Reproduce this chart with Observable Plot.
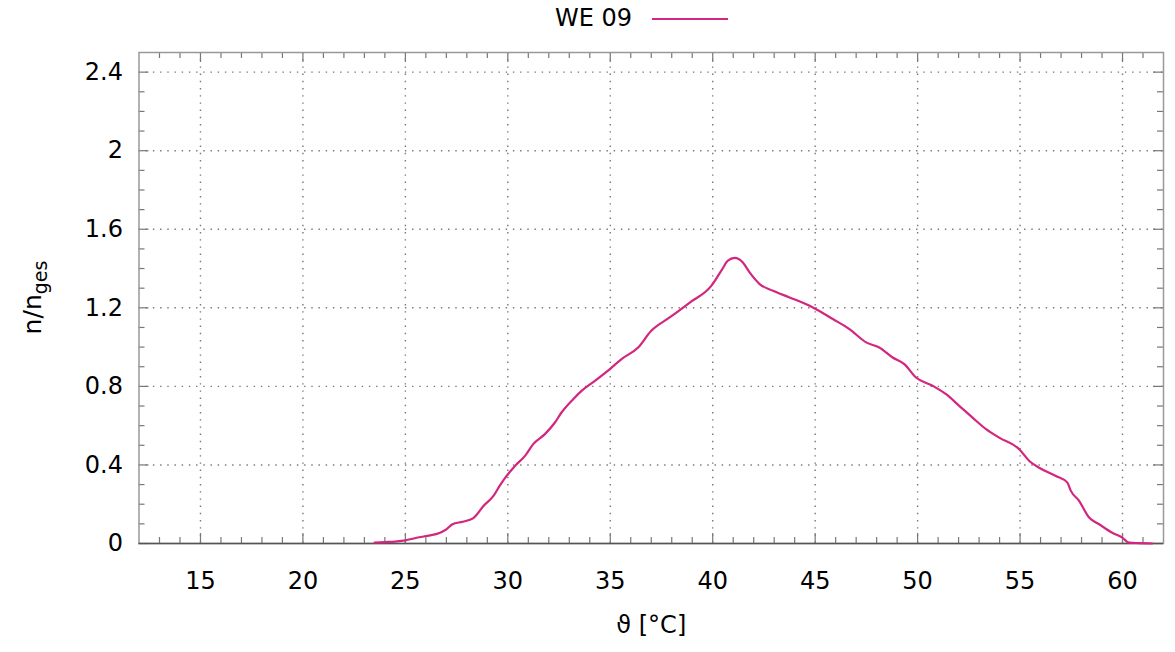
<!DOCTYPE html>
<html>
<head>
<meta charset="utf-8">
<script src="https://cdn.jsdelivr.net/npm/d3@7"></script>
<script src="https://cdn.jsdelivr.net/npm/@observablehq/plot@0.6"></script>
<style>
  html, body { margin: 0; padding: 0; background: #fff; }
  #legend { position: relative; height: 38px; width: 1175px; font-family: "DejaVu Sans", sans-serif; font-size: 24px; color: #000; }
  #legend span { position: absolute; left: 555px; top: 3px; line-height: 30px; }
  #legend svg { position: absolute; left: 652px; top: 17px; }
</style>
</head>
<body>
<div id="legend"><span>WE 09</span><svg width="78" height="4"><line x1="0" y1="2" x2="76" y2="2" stroke="#d2267f" stroke-width="2"/></svg></div>
<div id="chart"></div>
<script>
// --- data ---
const seriesName = "WE 09";
const temperature = [23.5,24.0,24.5,25.0,25.5,26.0,26.7,27.0,27.3,27.8,28.3,28.5,28.8,29.3,29.6,29.94,30.35,30.84,31.24,31.81,32.3,32.62,33.19,33.6,34.25,34.98,35.55,36.36,37.0,37.9,38.88,39.93,40.42,40.74,41.07,41.47,41.8,42.29,42.94,43.75,44.89,45.86,46.67,47.49,48.13,48.78,49.35,49.92,50.73,51.39,52.03,52.68,53.34,53.98,54.96,55.45,55.93,56.75,57.31,57.48,57.88,58.37,58.86,59.5,59.99,60.32,60.8,61.45];
const share = [0.004,0.007,0.01,0.016,0.028,0.038,0.055,0.072,0.098,0.111,0.128,0.149,0.19,0.242,0.293,0.344,0.395,0.446,0.506,0.557,0.616,0.667,0.735,0.777,0.828,0.888,0.939,0.998,1.083,1.151,1.227,1.312,1.389,1.44,1.454,1.431,1.38,1.321,1.287,1.253,1.202,1.143,1.092,1.024,0.998,0.947,0.913,0.845,0.803,0.76,0.701,0.641,0.582,0.539,0.48,0.42,0.386,0.344,0.31,0.268,0.217,0.132,0.098,0.055,0.03,0.004,0.002,0.0];
const xTicks = [15,20,25,30,35,40,45,50,55,60];
const yTicks = [0,0.4,0.8,1.2,1.6,2,2.4];
const xDomain = [12,62];
const yDomain = [0,2.5];
const xLabel = "ϑ [°C]";

const xMinor = d3.range(13, 62).filter(v => v % 5 !== 0);
const yMinor = d3.range(1, 25).filter(i => i % 4 !== 0).map(i => i / 10);

const table = temperature.map((t, i) => ({t, v: share[i]}));

const W = 1175, H = 614;
const mL = 138.5, mR = 12, mT = 14, mB = 109;
const iW = W - mL - mR, iH = H - mT - mB;
const majLen = 10, minLen = 6;
const tickColor = "#777";
const lineColor = "#d2267f";
const gridStyle = {stroke: "#777", strokeWidth: 1.4, strokeDasharray: "1.4,5.8"};

const plot = Plot.plot({
  width: W, height: H,
  marginLeft: mL, marginRight: mR, marginTop: mT, marginBottom: mB,
  style: {fontFamily: "DejaVu Sans, sans-serif", fontSize: "24px", color: "#000", background: "#fff"},
  x: {domain: xDomain, axis: null},
  y: {domain: yDomain, axis: null},
  marks: [
    // dotted grid
    Plot.ruleX(xTicks, {x: d => d, ...gridStyle}),
    Plot.ruleY(yTicks.filter(d => d > 0), {y: d => d, ...gridStyle}),
    // inward ticks, four sides
    Plot.tickX(xTicks, {x: d => d, insetTop: iH - majLen, stroke: tickColor, strokeWidth: 1.2}),
    Plot.tickX(xMinor, {x: d => d, insetTop: iH - minLen, stroke: tickColor, strokeWidth: 1.2}),
    Plot.tickX(xTicks, {x: d => d, insetBottom: iH - majLen, stroke: tickColor, strokeWidth: 1.2}),
    Plot.tickX(xMinor, {x: d => d, insetBottom: iH - minLen, stroke: tickColor, strokeWidth: 1.2}),
    Plot.tickY(yTicks, {y: d => d, insetRight: iW - majLen, stroke: tickColor, strokeWidth: 1.2}),
    Plot.tickY(yMinor, {y: d => d, insetRight: iW - minLen, stroke: tickColor, strokeWidth: 1.2}),
    Plot.tickY(yTicks, {y: d => d, insetLeft: iW - majLen, stroke: tickColor, strokeWidth: 1.2}),
    Plot.tickY(yMinor, {y: d => d, insetLeft: iW - minLen, stroke: tickColor, strokeWidth: 1.2}),
    Plot.frame({stroke: "#999", strokeWidth: 1.5}),
    Plot.ruleY([0], {stroke: "#555", strokeWidth: 1.6}),
    // tick labels
    Plot.axisX(xTicks, {anchor: "bottom", tickSize: 0, tickPadding: 28, fontSize: 24, fill: "#000", label: null}),
    Plot.axisY(yTicks, {anchor: "left", tickSize: 0, tickPadding: 16, fontSize: 24, fill: "#000", label: null, tickFormat: d => String(d)}),
    // data
    Plot.line(table, {x: "t", y: "v", stroke: lineColor, strokeWidth: 2.2, curve: "monotone-x"}),
    // x axis label
    Plot.text([xLabel], {frameAnchor: "bottom", dy: 89, text: d => d, fontSize: 24, fill: "#000"})
  ]
});

document.getElementById("chart").appendChild(plot);

// y axis label with subscript
const svg = d3.select(plot);
const yl = svg.append("text")
  .attr("transform", `translate(${34},${mT + iH / 2}) rotate(-90)`)
  .attr("text-anchor", "middle")
  .attr("dominant-baseline", "middle")
  .attr("font-family", "DejaVu Sans, sans-serif")
  .attr("font-size", 25)
  .attr("fill", "#000");
yl.append("tspan").text("n/n");
yl.append("tspan").attr("font-size", 19).attr("dy", "0.35em").text("ges");
</script>
</body>
</html>
